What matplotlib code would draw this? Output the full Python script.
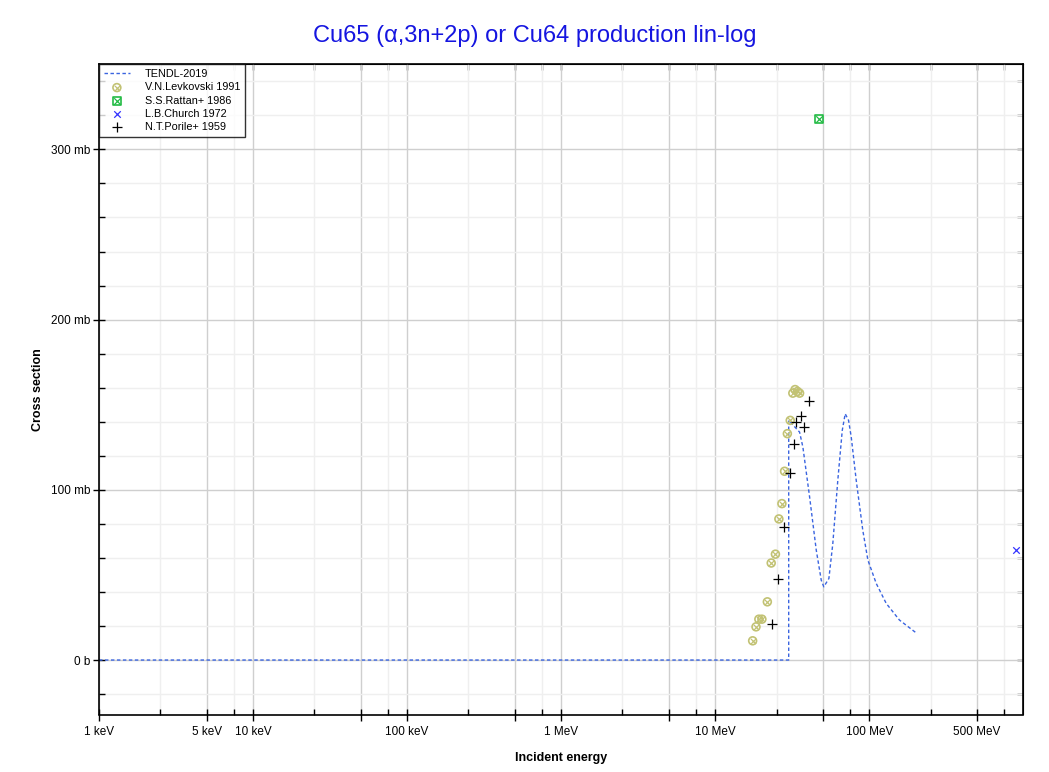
import matplotlib
matplotlib.use("Agg")
import matplotlib.pyplot as plt
from matplotlib.ticker import FixedLocator, NullFormatter, FixedFormatter

plt.rcParams["font.family"] = ["Liberation Sans", "DejaVu Sans"]

# ---- data (energy in MeV, cross section in mb) ----
tendl_e = [0.001, 30.0, 30.0, 35.3, 37.1, 41.0, 45.3, 48.8, 50.7, 54.7, 58.0, 62.5,
           66.8, 69.8, 73.4, 76.4, 82.3, 90.8, 98.0, 111.0, 128.8, 157.0, 200.0]
tendl_xs = [0.0, 0.0, 140.8, 133.9, 125.0, 95.8, 64.5, 46.9, 43.0, 47.9, 68.4, 105.6,
            134.9, 144.7, 140.8, 131.0, 105.6, 76.2, 58.7, 45.0, 33.3, 23.5, 16.2]

levk_e = [17.5, 18.4, 19.2, 20.1, 21.8, 23.1, 24.6, 25.9, 27.1, 28.2, 29.4, 30.7,
          31.9, 33.0, 34.2, 35.3]
levk_xs = [11.3, 19.5, 24.0, 24.0, 34.2, 57.0, 62.2, 82.9, 91.9, 110.9, 133.0, 140.8,
           156.8, 158.9, 157.8, 156.8]

rattan_e = [47.1]
rattan_xs = [317.7]

church_e = [901.0]
church_xs = [64.5]

porile_e = [23.4, 25.5, 27.9, 30.4, 32.4, 33.7, 35.8, 37.8, 40.5]
porile_xs = [21.1, 47.9, 78.2, 110.1, 127.1, 139.8, 143.1, 136.8, 151.9]

xtick_vals = [0.001, 0.005, 0.01, 0.05, 0.1, 0.5, 1, 5, 10, 50, 100, 500]
xtick_labels = ["1 keV", "5 keV", "10 keV", "", "100 keV", "", "1 MeV", "", "10 MeV", "",
                "100 MeV", "500 MeV"]
xminor_vals = [m * 10.0 ** k for k in range(-3, 3) for m in (2.5, 7.5)]
ytick_vals = [0, 100, 200, 300]
ytick_labels = ["0 b", "100 mb", "200 mb", "300 mb"]
yminor_vals = list(range(-20, 341, 20))

title = "Cu65 (\u03b1,3n+2p) or Cu64 production lin-log"

# ---- figure ----
fig = plt.figure(figsize=(10.49, 7.72), dpi=100)
ax = fig.add_axes([99 / 1049, 1 - 714.5 / 772, (1023.3 - 99) / 1049, (714.5 - 64.3) / 772])
ax.set_xscale("log")
ax.set_xlim(1e-3, 1e3)
ax.set_ylim(-32, 350)

ax.xaxis.set_major_locator(FixedLocator(xtick_vals))
ax.xaxis.set_major_formatter(FixedFormatter(xtick_labels))
ax.xaxis.set_minor_locator(FixedLocator(xminor_vals))
ax.xaxis.set_minor_formatter(NullFormatter())
ax.yaxis.set_major_locator(FixedLocator(ytick_vals))
ax.yaxis.set_major_formatter(FixedFormatter(ytick_labels))
ax.yaxis.set_minor_locator(FixedLocator(yminor_vals))

ax.grid(which="major", color="#cfcfcf", linewidth=1.0, zorder=0)
ax.grid(which="minor", color="#efefef", linewidth=1.0, zorder=0)
ax.set_axisbelow(True)

ax.tick_params(which="major", direction="inout", length=9, width=1, labelsize=8.5)
ax.tick_params(axis="y", which="major", pad=1.5)
ax.tick_params(axis="x", which="major", pad=4)
ax.tick_params(which="minor", direction="in", length=4, width=1)
for s in ax.spines.values():
    s.set_linewidth(1.2)

# top / right inward ticks
top = ax.secondary_xaxis("top")
top.set_xscale("log")
top.xaxis.set_major_locator(FixedLocator(xtick_vals))
top.xaxis.set_minor_locator(FixedLocator(xminor_vals))
top.xaxis.set_major_formatter(NullFormatter())
top.xaxis.set_minor_formatter(NullFormatter())
top.tick_params(which="both", direction="in", length=4, width=1)
right = ax.secondary_yaxis("right")
right.yaxis.set_major_locator(FixedLocator(ytick_vals))
right.yaxis.set_minor_locator(FixedLocator(yminor_vals))
right.yaxis.set_major_formatter(NullFormatter())
right.yaxis.set_minor_formatter(NullFormatter())
right.tick_params(which="both", direction="in", length=4, width=1)

# TENDL
ln, = ax.plot(tendl_e, tendl_xs, color="#3a64e0", linestyle=(0, (2.5, 1.8)), linewidth=1.0)

# Levkovski: circle with x
lc = "#c2c274"
l1 = ax.scatter(levk_e, levk_xs, s=32, facecolors="none", edgecolors=lc, linewidths=1.2, zorder=3)
l2 = ax.scatter(levk_e, levk_xs, s=14, marker="x", color=lc, linewidths=0.9, zorder=3)

# Rattan: square with x
rc = "#22bb44"
r1 = ax.scatter(rattan_e, rattan_xs, s=34, marker="s", facecolors="none", edgecolors=rc, linewidths=1.2, zorder=3)
r2 = ax.scatter(rattan_e, rattan_xs, s=22, marker="x", color=rc, linewidths=0.9, zorder=3)

# Church
c1 = ax.scatter(church_e, church_xs, s=22, marker="x", color="#3333ff", linewidths=0.9, zorder=3)

# Porile
p1 = ax.scatter(porile_e, porile_xs, s=50, marker="+", color="black", linewidths=0.9, zorder=3)

leg = ax.legend([ln, (l1, l2), (r1, r2), c1, p1],
                ["TENDL-2019", "V.N.Levkovski 1991", "S.S.Rattan+ 1986", "L.B.Church 1972",
                 "N.T.Porile+ 1959"],
                loc="upper left", bbox_to_anchor=(0, 1), fontsize=7.8, frameon=True,
                fancybox=False, edgecolor="black", borderaxespad=0, handlelength=2.4,
                labelspacing=0.3, borderpad=0.45, handletextpad=1.4)
leg.get_frame().set_linewidth(1.0)

ax.set_xlabel("Incident energy", fontsize=9, fontweight="bold", labelpad=10)
ax.set_ylabel("Cross section", fontsize=9, fontweight="bold", labelpad=5)
fig.text(0.5095, 0.953, title, ha="center", va="center", fontsize=17, color="#1515e0")

fig.savefig("out.png", dpi=100)
